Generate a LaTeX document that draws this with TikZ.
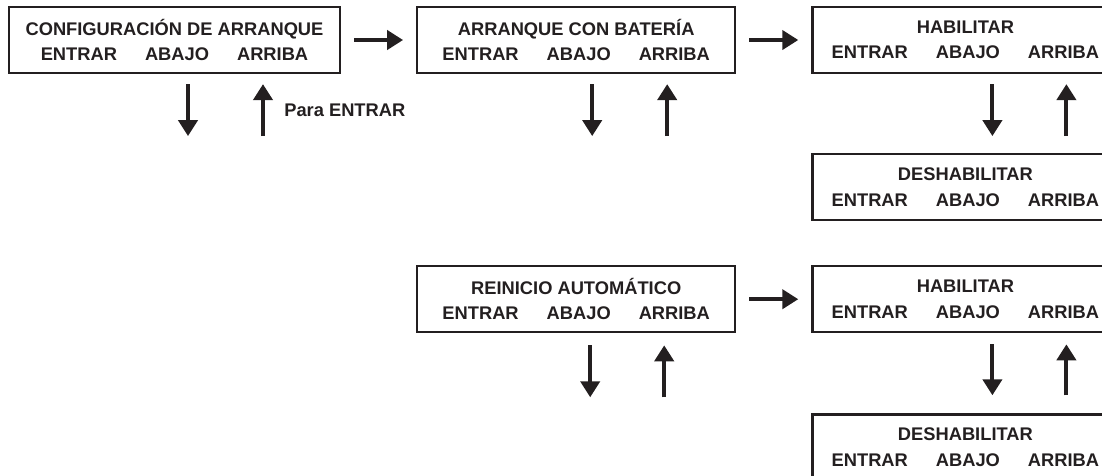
\documentclass[tikz,border=0pt]{standalone}
\usepackage{fontspec}
\setmainfont{Liberation Sans}
\usetikzlibrary{positioning, arrows.meta}
\definecolor{tinta}{HTML}{231F20}

\newcommand{\teclas}{ENTRAR\hspace{28pt}ABAJO\hspace{28pt}ARRIBA}

\begin{document}
\begin{tikzpicture}[x=1pt, y=1pt, node distance=75pt,
    menu/.style={draw=tinta, text=tinta, line width=2.2pt, minimum height=66pt, inner sep=0pt, align=center,
      font=\fontsize{18.3}{25.5}\selectfont\bfseries},
    flecha/.style={draw=tinta, line width=4pt, -{Triangle[length=16pt, width=19pt]}}]
    \useasboundingbox (0,0) rectangle (1102,-475);
    \clip (0,0) rectangle (1102,-475);
    \node[menu, minimum width=331pt] (config) at (174.5,-40) {CONFIGURACIÓN DE ARRANQUE\\ \teclas};
    \node[menu, minimum width=318pt, right=of config] (bateria) {ARRANQUE CON BATERÍA\\ \teclas};
    \node[menu, minimum width=306pt, right=of bateria] (hab1) {HABILITAR\\ \teclas};
    \node[menu, minimum width=306pt, below=79pt of hab1] (deshab1) {DESHABILITAR\\ \teclas};
    \node[menu, minimum width=318pt, below=191pt of bateria] (reinicio) {REINICIO AUTOMÁTICO\\ \teclas};
    \node[menu, minimum width=306pt, right=of reinicio] (hab2) {HABILITAR\\ \teclas};
    \node[menu, minimum width=306pt, below=80pt of hab2] (deshab2) {DESHABILITAR\\ \teclas};
    \draw[flecha] ([xshift=13pt]config.east) -- ([xshift=-13pt]bateria.west);
    \draw[flecha] ([xshift=13pt]bateria.east) -- ([xshift=-13pt]hab1.west);
    \draw[flecha] ([xshift=13pt]reinicio.east) -- ([xshift=-13pt]hab2.west);
    % abajo / arriba
    \draw[flecha] ([xshift=13.5pt,yshift=-10pt]config.south) -- ++(0,-52);
    \draw[flecha] ([xshift=88.5pt,yshift=-62pt]config.south) -- ++(0,52)
      node[midway, right=16pt, text=tinta, font=\fontsize{18.3}{20}\selectfont\bfseries] (para) {Para ENTRAR};
    \draw[flecha] ([xshift=16pt,yshift=-10pt]bateria.south) -- ++(0,-52);
    \draw[flecha] ([xshift=91pt,yshift=-62pt]bateria.south) -- ++(0,52);
    \draw[flecha] ([xshift=27pt,yshift=-10pt]hab1.south) -- ([xshift=27pt,yshift=17pt]deshab1.north);
    \draw[flecha] ([xshift=101pt,yshift=17pt]deshab1.north) -- ([xshift=101pt,yshift=-10pt]hab1.south);
    \draw[flecha] ([xshift=14pt,yshift=-12pt]reinicio.south) -- ++(0,-52);
    \draw[flecha] ([xshift=88pt,yshift=-64pt]reinicio.south) -- ++(0,52);
    \draw[flecha] ([xshift=27pt,yshift=-11pt]hab2.south) -- ([xshift=27pt,yshift=18pt]deshab2.north);
    \draw[flecha] ([xshift=101pt,yshift=18pt]deshab2.north) -- ([xshift=101pt,yshift=-11pt]hab2.south);
\end{tikzpicture}
\end{document}
